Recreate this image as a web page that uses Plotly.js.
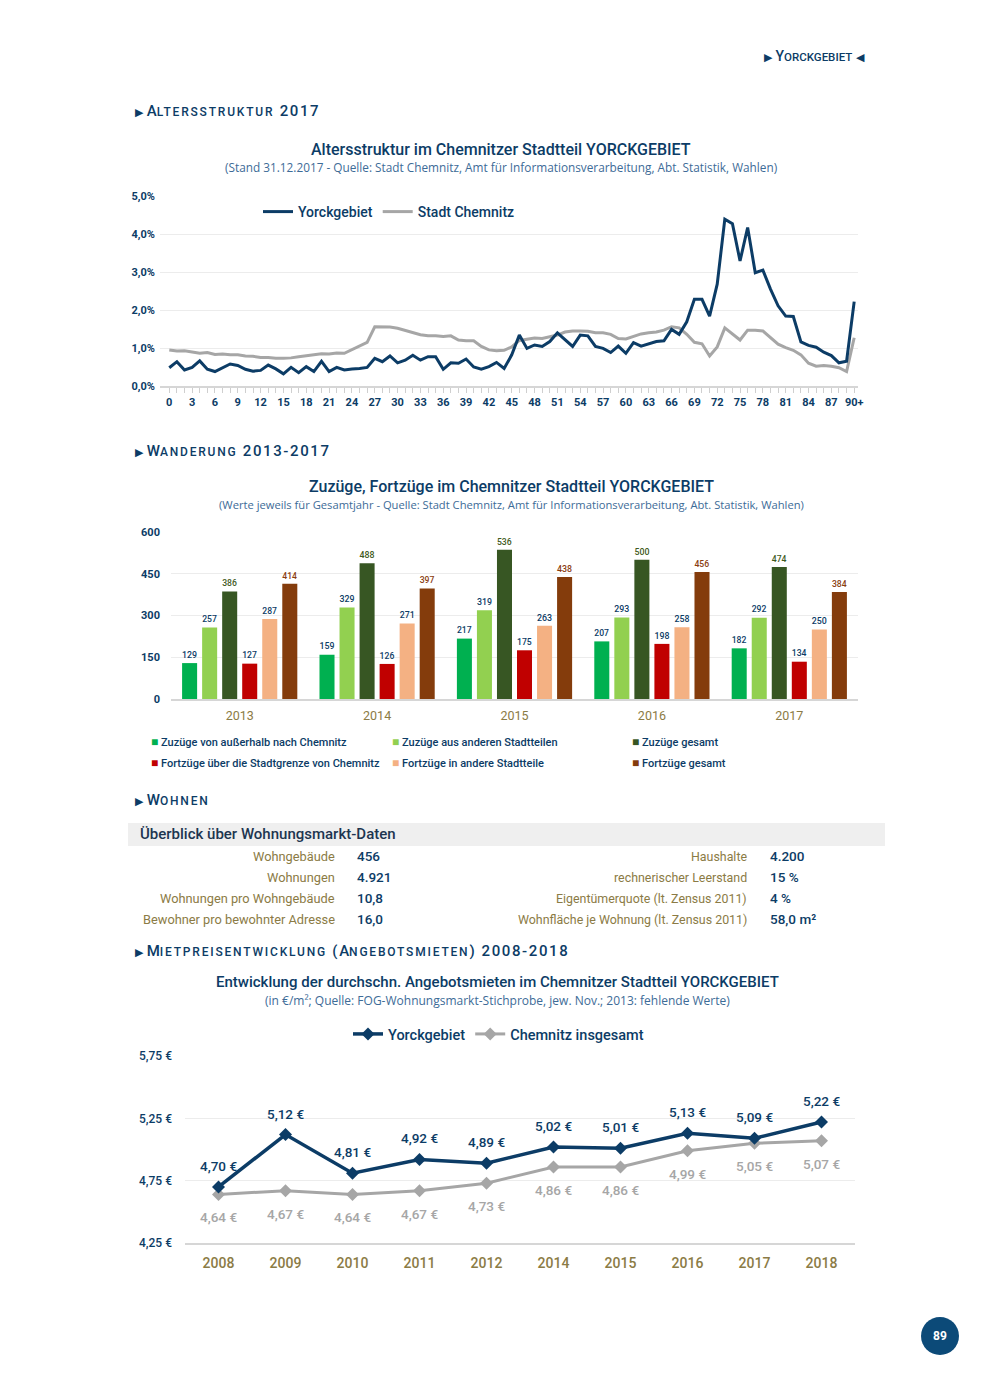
<!DOCTYPE html>
<html><head><meta charset="utf-8">
<script src="https://cdn.plot.ly/plotly-3.0.1.min.js"></script>
<style>html,body{margin:0;padding:0;background:#fff}#page{width:990px;height:1389px}</style>
</head><body><div id="page"></div>
<script>
// ---------- DATA ----------
const ageLabels = ["0","1","2","3","4","5","6","7","8","9","10","11","12","13","14","15","16","17","18","19","20","21","22","23","24","25","26","27","28","29","30","31","32","33","34","35","36","37","38","39","40","41","42","43","44","45","46","47","48","49","50","51","52","53","54","55","56","57","58","59","60","61","62","63","64","65","66","67","68","69","70","71","72","73","74","75","76","77","78","79","80","81","82","83","84","85","86","87","88","89","90+"];
const ageYorck = [0.48,0.64,0.42,0.49,0.66,0.44,0.38,0.48,0.58,0.54, 0.44,0.39,0.41,0.55,0.45,0.32,0.49,0.35,0.51,0.38, 0.65,0.38,0.49,0.42,0.45,0.46,0.49,0.73,0.64,0.79, 0.61,0.68,0.81,0.68,0.77,0.77,0.44,0.61,0.60,0.71, 0.50,0.44,0.51,0.62,0.46,0.82,1.34,0.99,1.08,1.04, 1.17,1.40,1.21,1.04,1.34,1.32,1.04,0.99,0.88,1.05, 0.86,1.14,1.05,1.11,1.17,1.19,1.49,1.36,1.69,2.28, 2.28,1.84,2.68,4.39,4.27,3.29,4.17,2.98,3.05,2.55, 2.11,1.84,1.83,1.16,1.07,1.02,0.89,0.80,0.61,0.65, 2.22];
const ageChemnitz = [0.95,0.92,0.93,0.89,0.86,0.88,0.83,0.84,0.82,0.82, 0.79,0.78,0.75,0.75,0.73,0.73,0.74,0.77,0.80,0.82, 0.85,0.84,0.87,0.86,0.95,1.04,1.15,1.56,1.55,1.55, 1.52,1.46,1.39,1.35,1.32,1.32,1.30,1.32,1.21,1.19, 1.19,1.04,0.95,0.93,0.94,1.03,1.20,1.23,1.26,1.25, 1.30,1.34,1.42,1.45,1.45,1.44,1.40,1.40,1.36,1.25, 1.24,1.30,1.37,1.40,1.42,1.47,1.56,1.53,1.36,1.15, 1.11,0.79,1.03,1.53,1.38,1.21,1.47,1.47,1.45,1.27, 1.10,1.01,0.94,0.82,0.60,0.52,0.54,0.52,0.48,0.38, 1.27];
const ageTickValsPct = [0,1,2,3,4,5];

const migYears = ["2013","2014","2015","2016","2017"];
const zuzAussen = [129,159,217,207,182];
const zuzStadtteile = [257,329,319,293,292];
const zuzGesamt = [386,488,536,500,474];
const fortGrenze = [127,126,175,198,134];
const fortStadtteile = [287,271,263,258,250];
const fortGesamt = [414,397,438,456,384];
const migNames = ["Zuzüge von außerhalb nach Chemnitz","Zuzüge aus anderen Stadtteilen","Zuzüge gesamt","Fortzüge über die Stadtgrenze von Chemnitz","Fortzüge in andere Stadtteile","Fortzüge gesamt"];
const migTickVals = [0,150,300,450,600];

const tableLeftLabels = ["Wohngebäude","Wohnungen","Wohnungen pro Wohngebäude","Bewohner pro bewohnter Adresse"];
const tableLeftValues = ["456","4.921","10,8","16,0"];
const tableRightLabels = ["Haushalte","rechnerischer Leerstand","Eigentümerquote (lt. Zensus 2011)","Wohnfläche je Wohnung (lt. Zensus 2011)"];
const tableRightValues = ["4.200","15 %","4 %","58,0 m²"];

const rentYears = ["2008","2009","2010","2011","2012","2014","2015","2016","2017","2018"];
const rentYorck = [4.70,5.12,4.81,4.92,4.89,5.02,5.01,5.13,5.09,5.22];
const rentChemnitz = [4.64,4.67,4.64,4.67,4.73,4.86,4.86,4.99,5.05,5.07];
const rentTickVals = [4.25,4.75,5.25,5.75];

// ---------- STYLE ----------
const W = 990, H = 1389;
const navy = '#0c3c66', gold = '#8b7b45', grey = '#a6a6a6', subBlue = '#3d6b97';
const F = 'Roboto, "Noto Sans", sans-serif';
const FS = '"Open Sans", "Noto Sans", sans-serif';
const px = v => v / W, py = v => 1 - v / H;
const de = (v, d) => v.toFixed(d).replace('.', ',');
const TRI_R = '<span style="font-size:11px">▶</span>';
const TRI_L = '<span style="font-size:11px">◀</span>';

const ann = [];
function txt(x, y, text, o) {
  o = o || {};
  ann.push({xref:'paper', yref:'paper', x:px(x), y:py(y), text:text, showarrow:false,
    xanchor:o.xa || 'left', yanchor:'middle',
    font:{family:o.family || F, size:o.size || 13, color:o.color || navy, weight:o.weight || 'normal'}});
}
const sc = s => '<span style="font-size:12px;letter-spacing:1.8px">' + s + '</span>';
const sp = s => '<span style="letter-spacing:1.6px">' + s + '</span>';

// header
txt(867, 56, TRI_R + ' Y<span style="font-size:11.5px">ORCKGEBIET</span> ' + TRI_L, {xa:'right', size:14, weight:500});

// section 1
txt(133, 111, TRI_R + ' A' + sc('LTERSSTRUKTUR') + sp(' 2017'), {size:15, weight:500});
txt(501, 149, 'Altersstruktur im Chemnitzer Stadtteil YORCKGEBIET', {xa:'center', size:16, weight:500});
txt(501, 167, '(Stand 31.12.2017 - Quelle: Stadt Chemnitz, Amt für Informationsverarbeitung, Abt. Statistik, Wahlen)', {xa:'center', size:11.8, family:FS, color:subBlue});

// section 2
txt(133, 451, TRI_R + ' W' + sc('ANDERUNG') + sp(' 2013-2017'), {size:15, weight:500});
txt(511, 486, 'Zuzüge, Fortzüge im Chemnitzer Stadtteil YORCKGEBIET', {xa:'center', size:16, weight:500});
txt(511, 504, '(Werte jeweils für Gesamtjahr - Quelle: Stadt Chemnitz, Amt für Informationsverarbeitung, Abt. Statistik, Wahlen)', {xa:'center', size:11.2, family:FS, color:subBlue});

const barColors = ['#00b050','#92d050','#375623','#c00000','#f4b183','#843c0c'];
const labelColors = [navy, navy, '#3f5a22', navy, navy, '#8a3d0f'];
const legCols = [150, 391, 631], legRows = [742, 763];
migNames.forEach((n, i) => {
  txt(legCols[i % 3] - 1, legRows[Math.floor(i / 3)],
    '<span style="color:' + barColors[i] + ';font-size:12px">■</span> ' + n, {size:11, weight:500});
});

// section 3
txt(133, 800, TRI_R + ' W' + sc('OHNEN'), {size:15, weight:500});
txt(138, 834, 'Überblick über Wohnungsmarkt-Daten', {size:15, color:'#1d3550', weight:500});
const rowY = [856, 877, 898, 919];
tableLeftLabels.forEach((l, i) => {
  txt(337, rowY[i], l, {xa:'right', size:12.8, color:gold});
  txt(355, rowY[i], tableLeftValues[i], {size:13.5, color:navy, weight:500});
  txt(749, rowY[i], tableRightLabels[i], {xa:'right', size:12.4, color:gold});
  txt(768, rowY[i], tableRightValues[i], {size:13.5, color:navy, weight:500});
});

// section 4
txt(133, 951, TRI_R + ' M' + sc('IETPREISENTWICKLUNG') + sp(' (') + 'A' + sc('NGEBOTSMIETEN') + sp(') 2008-2018'), {size:15, weight:500});
txt(497, 982, 'Entwicklung der durchschn. Angebotsmieten im Chemnitzer Stadtteil YORCKGEBIET', {xa:'center', size:15, weight:500});
txt(497, 1000, '(in €/m²; Quelle: FOG-Wohnungsmarkt-Stichprobe, jew. Nov.; 2013: fehlende Werte)', {xa:'center', size:12, family:FS, color:subBlue});

// rent data labels (category index positions on x3)
rentYears.forEach((yr, i) => {
  ann.push({xref:'x3', yref:'y3', x:i, y:rentYorck[i], text:de(rentYorck[i], 2) + ' €', showarrow:false,
    yshift:21, font:{family:F, size:13.5, color:navy, weight:500}});
  ann.push({xref:'x3', yref:'y3', x:i, y:rentChemnitz[i], text:de(rentChemnitz[i], 2) + ' €', showarrow:false,
    yshift:-23, font:{family:F, size:13.5, color:grey, weight:500}});
});

// page number
txt(940, 1336, '89', {xa:'center', size:12, color:'#ffffff', weight:'bold'});

// ---------- TRACES ----------
const traces = [
  {type:'scatter', mode:'lines', x:ageLabels, y:ageChemnitz, name:'Stadt Chemnitz', xaxis:'x', yaxis:'y',
   line:{color:grey, width:3}, legend:'legend'},
  {type:'scatter', mode:'lines', x:ageLabels, y:ageYorck, name:'Yorckgebiet', xaxis:'x', yaxis:'y',
   line:{color:navy, width:3}, legend:'legend'}
];
const migSeries = [zuzAussen, zuzStadtteile, zuzGesamt, fortGrenze, fortStadtteile, fortGesamt];
migSeries.forEach((s, i) => {
  traces.push({type:'bar', x:migYears, y:s, name:migNames[i], xaxis:'x2', yaxis:'y2', showlegend:false,
    marker:{color:barColors[i]}, text:s.map(String), textposition:'outside', cliponaxis:false,
    textfont:{family:F, size:11.5, color:labelColors[i], weight:500}});
});
traces.push({type:'scatter', mode:'lines+markers', x:rentYears, y:rentChemnitz, name:'Chemnitz insgesamt',
  xaxis:'x3', yaxis:'y3', line:{color:grey, width:3}, marker:{symbol:'diamond', size:10, color:grey}, legend:'legend2'});
traces.push({type:'scatter', mode:'lines+markers', x:rentYears, y:rentYorck, name:'Yorckgebiet',
  xaxis:'x3', yaxis:'y3', line:{color:navy, width:3.5}, marker:{symbol:'diamond', size:10, color:navy}, legend:'legend2'});

// ---------- LAYOUT ----------
const ageTickText = ageLabels.map((l, i) => (i % 3 === 0 ? l : ''));
const layout = {
  width:W, height:H, margin:{l:0, r:0, t:0, b:0}, paper_bgcolor:'#fff', plot_bgcolor:'rgba(0,0,0,0)',
  separators:',.', showlegend:true, hovermode:false,
  font:{family:F, color:navy},
  xaxis:{domain:[px(160), px(858)], anchor:'y', type:'category', categoryorder:'array', categoryarray:ageLabels,
    range:[-1.22, 90.5], autorange:false,
    tickmode:'array', tickvals:ageLabels, ticktext:ageTickText, ticks:'outside', ticklen:5, tickcolor:'#cfcfcf', tickwidth:1,
    showline:true, linecolor:'#d6d6d6', linewidth:1.5, showgrid:false,
    tickfont:{family:F, size:11, color:navy, weight:'bold'}, tickangle:0},
  yaxis:{domain:[py(386), py(196)], anchor:'x', range:[0, 5], autorange:false, tickmode:'array',
    tickvals:ageTickValsPct, ticktext:ageTickValsPct.map(v => de(v, 1) + '%'),
    showgrid:true, gridcolor:'#ececec', zeroline:false, ticks:'', ticklabelstandoff:4,
    tickfont:{family:F, size:11, color:navy, weight:'bold'}},
  xaxis2:{domain:[px(171), px(858)], anchor:'y2', type:'category', categoryorder:'array', categoryarray:migYears,
    range:[-0.5, 4.5], autorange:false, showline:true, linecolor:'#d6d6d6', linewidth:2,
    ticks:'', showgrid:false, ticklabelstandoff:4, tickfont:{family:F, size:12.5, color:gold}},
  yaxis2:{domain:[py(699), py(532)], anchor:'x2', range:[0, 600], autorange:false, tickmode:'array',
    tickvals:migTickVals, ticktext:migTickVals.map(String),
    showgrid:true, gridcolor:'#ececec', zeroline:false, ticks:'', ticklabelstandoff:10,
    tickfont:{family:F, size:11, color:navy, weight:'bold'}},
  xaxis3:{domain:[px(185), px(855)], anchor:'y3', type:'category', categoryorder:'array', categoryarray:rentYears,
    range:[-0.5, 9.5], autorange:false, showline:true, linecolor:'#d6d6d6', linewidth:2,
    ticks:'', showgrid:false, ticklabelstandoff:6, tickfont:{family:F, size:14, color:gold, weight:500}},
  yaxis3:{domain:[py(1243), py(1056)], anchor:'x3', range:[4.25, 5.75], autorange:false, tickmode:'array',
    tickvals:rentTickVals, ticktext:rentTickVals.map(v => de(v, 2) + ' €'),
    showgrid:true, gridcolor:'#ececec', zeroline:false, ticks:'', ticklabelstandoff:12,
    tickfont:{family:F, size:12, color:navy, weight:500}},
  barmode:'group', bargap:0.125, bargroupgap:0.25,
  legend:{orientation:'h', x:px(258), y:py(212), xanchor:'left', yanchor:'middle', bgcolor:'rgba(0,0,0,0)',
    font:{family:F, size:14, color:navy, weight:500}, traceorder:'reversed', itemwidth:30},
  legend2:{orientation:'h', x:px(348), y:py(1034), xanchor:'left', yanchor:'middle', bgcolor:'rgba(0,0,0,0)',
    font:{family:F, size:14.5, color:navy, weight:500}, traceorder:'reversed', itemwidth:30},
  shapes:[
    {type:'rect', xref:'paper', yref:'paper', x0:px(128), x1:px(885), y0:py(846), y1:py(823), fillcolor:'#efefef', line:{width:0}, layer:'below'},
    {type:'circle', xref:'paper', yref:'paper', x0:px(921), x1:px(959), y0:py(1355), y1:py(1317), fillcolor:'#0c4a78', line:{width:0}}
  ],
  annotations:ann
};
Plotly.newPlot('page', traces, layout, {staticPlot:true, displayModeBar:false});
</script>
</body></html>
